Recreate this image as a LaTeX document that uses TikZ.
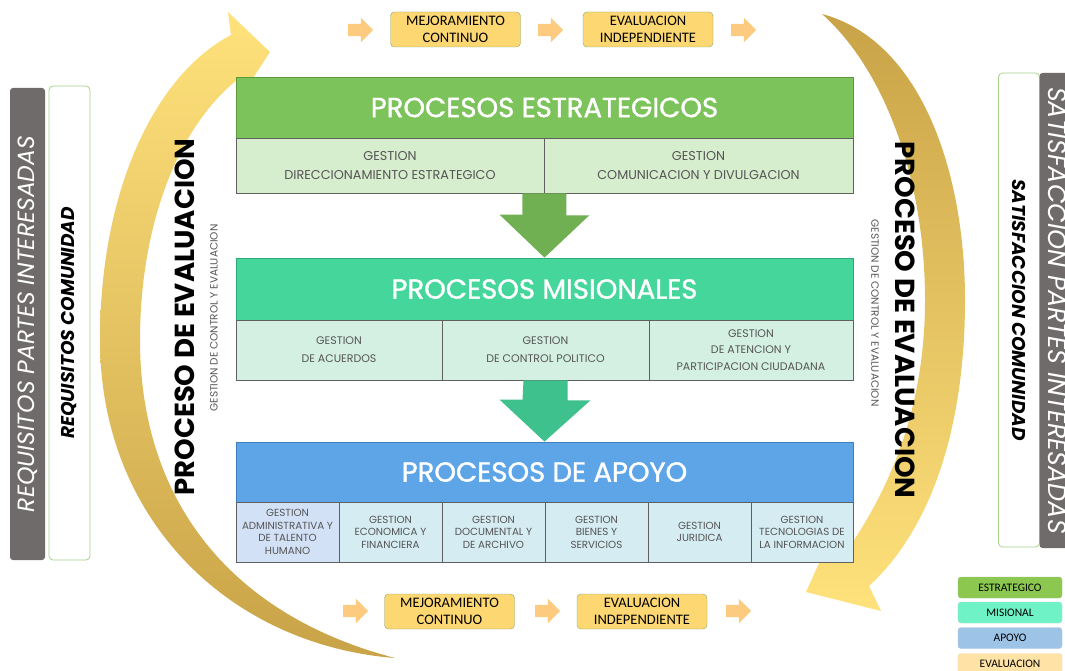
\documentclass[tikz,border=0pt]{standalone}
\usepackage{fontspec}
\setmainfont{Poppins}
\newfontfamily\carlito{Carlito}
\newfontfamily\hdrfont[FakeBold=1.2]{Poppins}
\usetikzlibrary{shapes.arrows}

\definecolor{estrgreen}{HTML}{7DC35B}
\definecolor{estrdark}{HTML}{5A9A3C}
\definecolor{estrlight}{HTML}{D6EDCE}
\definecolor{misgreen}{HTML}{45D69C}
\definecolor{misdark}{HTML}{2FA877}
\definecolor{mislight}{HTML}{D3F0E3}
\definecolor{apoblue}{HTML}{5EA5E8}
\definecolor{apodark}{HTML}{3F7FC0}
\definecolor{apolight}{HTML}{D5ECF2}
\definecolor{apofirst}{HTML}{D3E1F6}
\definecolor{gold}{HTML}{C9A347}
\definecolor{lightgold}{HTML}{FFE27C}
\definecolor{evalfill}{HTML}{FDD772}
\definecolor{evalarrow}{HTML}{FDCB80}
\definecolor{sidegray}{HTML}{6F6B6B}
\definecolor{sideline}{HTML}{A6D38A}
\definecolor{legstr}{HTML}{8CC850}
\definecolor{legmis}{HTML}{6EF2C6}
\definecolor{legapo}{HTML}{9DC3E6}
\definecolor{legeval}{HTML}{FFE3A6}
\definecolor{subtext}{HTML}{555555}

\begin{document}
\begin{tikzpicture}[x=1pt,y=-1pt,
    hdr/.style={rectangle, inner sep=0, minimum width=617, line width=0.8pt,
        text=white, font=\hdrfont\fontsize{27.5}{30}\selectfont},
    sub/.style={rectangle, inner sep=0, draw=gray!75!black, line width=0.6pt,
        align=center, text=subtext, font=\fontsize{11}{18}\selectfont},
    apo/.style={sub, fill=apolight, minimum width=103, minimum height=60,
        font=\fontsize{10.3}{12.5}\selectfont},
    evalbox/.style={rectangle, rounded corners=4, draw=sideline!80!black, fill=evalfill,
        minimum width=130, minimum height=35, align=center,
        font=\carlito\fontsize{14.5}{16.5}\selectfont},
    smallarrow/.style={single arrow, fill=evalarrow, minimum height=25,
        single arrow head extend=6, inner sep=0},
    legend/.style={rectangle, rounded corners=3, minimum width=104,
        minimum height=21, inner sep=0, font=\carlito\fontsize{11.5}{13}\selectfont},
    sidebox/.style={rectangle, rounded corners=4, draw=sideline, line width=0.8pt, fill=white,
        minimum width=474, minimum height=41, inner sep=0,
        font=\bfseries\itshape\fontsize{18.5}{20}\selectfont},
    sidebar/.style={rectangle, rounded corners=3, fill=sidegray, text=white,
        minimum height=35, inner sep=0, font=\itshape\fontsize{23.5}{25}\selectfont},
    bigeval/.style={font=\bfseries\fontsize{27.5}{30}\selectfont},
    smalleval/.style={text=subtext, font=\fontsize{10.5}{12}\selectfont}]

\useasboundingbox (0,0) rectangle (1065,671);
\fill[white] (0,0) rectangle (1065,671);

% big curved arrows
\shade[top color=lightgold, bottom color=gold]
    (395,658) .. controls (230,645) and (100,520) .. (100,340)
    .. controls (100,190) and (155,75) .. (231,35)
    -- (228,12) -- (270,52) -- (240,98) -- (237,80)
    .. controls (175,130) and (140,230) .. (140,340)
    .. controls (140,500) and (230,615) .. (395,658) -- cycle;
\shade[top color=gold, bottom color=lightgold]
    (822,14) .. controls (920,40) and (965,170) .. (965,300)
    .. controls (965,430) and (930,530) .. (869,586)
    -- (881,611) -- (806,592) -- (838,521) -- (850,546)
    .. controls (895,480) and (925,400) .. (925,300)
    .. controls (925,180) and (885,70) .. (822,14) -- cycle;

% procesos estrategicos
\node[hdr, fill=estrgreen, draw=estrdark, minimum height=61] (estr) at (544.5,107.5) {PROCESOS ESTRATEGICOS};
\node[sub, fill=estrlight, minimum width=308, minimum height=55, font=\fontsize{12.8}{19}\selectfont] (estrL) at (390,165.5) {GESTION\\DIRECCIONAMIENTO ESTRATEGICO};
\node[sub, fill=estrlight, minimum width=309, minimum height=55, font=\fontsize{12.8}{19}\selectfont] (estrR) at (698.5,165.5) {GESTION\\COMUNICACION Y DIVULGACION};

% procesos misionales
\node[hdr, fill=misgreen, draw=misdark, minimum height=62] (mis) at (544.5,289) {PROCESOS MISIONALES};
\node[sub, fill=mislight, minimum width=206, minimum height=60] (misL) at (339,350) {GESTION\\DE ACUERDOS};
\node[sub, fill=mislight, minimum width=207, minimum height=60] (misC) at (545.5,350) {GESTION\\DE CONTROL POLITICO};
\node[sub, fill=mislight, minimum width=204, minimum height=60, font=\fontsize{11}{16.5}\selectfont] (misR) at (751,350) {GESTION\\DE ATENCION Y\\PARTICIPACION CIUDADANA};

% procesos de apoyo
\node[hdr, fill=apoblue, draw=apodark, minimum height=60] (apoyo) at (544.5,472) {PROCESOS DE APOYO};
\node[apo, fill=apofirst] (apo1) at (287.5,532) {GESTION\\ADMINISTRATIVA Y\\DE TALENTO\\HUMANO};
\node[apo] (apo2) at (390.5,532) {GESTION\\ECONOMICA Y\\FINANCIERA};
\node[apo] (apo3) at (493.5,532) {GESTION\\DOCUMENTAL Y\\DE ARCHIVO};
\node[apo] (apo4) at (596.5,532) {GESTION\\BIENES Y\\SERVICIOS};
\node[apo] (apo5) at (699.5,532) {GESTION\\JURIDICA};
\node[apo, minimum width=102] (apo6) at (802,532) {GESTION\\TECNOLOGIAS DE\\LA INFORMACION};

% flechas entre niveles
\fill[estrgreen!90!black] ([xshift=-22pt]estrL.south east) -- ++(44,0) -- ++(0,22) -- ++(23,0)
    -- (mis.north) -- ([xshift=-45pt,yshift=43pt]mis.north) -- ++(23,0) -- cycle;
\fill[misgreen!90!black] ([xshift=-22pt]misC.south) -- ++(44,0) -- ++(0,20) -- ++(23,0)
    -- (apoyo.north) -- ([xshift=-45pt,yshift=42pt]apoyo.north) -- ++(23,0) -- cycle;

% mejoramiento y evaluacion
\node[smallarrow] (ta1) at (357.5,30) {\rule{0pt}{12pt}};
\node[evalbox] (mejT) at (455.5,29.5) {MEJORAMIENTO\\CONTINUO};
\node[smallarrow] (ta2) at (547.5,30) {\rule{0pt}{12pt}};
\node[evalbox] (evaT) at (648,29.5) {EVALUACION\\INDEPENDIENTE};
\node[smallarrow] (ta3) at (740.5,30) {\rule{0pt}{12pt}};

\node[smallarrow] (ba1) at (352.5,611) {\rule{0pt}{12pt}};
\node[evalbox] (mejB) at (449.5,611.5) {MEJORAMIENTO\\CONTINUO};
\node[smallarrow] (ba2) at (544.5,611) {\rule{0pt}{12pt}};
\node[evalbox] (evaB) at (642,611.5) {EVALUACION\\INDEPENDIENTE};
\node[smallarrow] (ba3) at (735.5,611) {\rule{0pt}{12pt}};

% proceso de evaluacion
\node[bigeval, rotate=90] (evalL) at (185,317) {PROCESO DE EVALUACION};
\node[smalleval, rotate=90] (ctrlL) at (214,318) {GESTION DE CONTROL Y EVALUACION};
\node[bigeval, rotate=-90] (evalR) at (905,320) {PROCESO DE EVALUACION};
\node[smalleval, rotate=-90] (ctrlR) at (875,313) {GESTION DE CONTROL Y EVALUACION};

% requisitos y satisfaccion
\node[sidebar, rotate=90, minimum width=472] (reqbar) at (27.5,324) {REQUISITOS PARTES INTERESADAS};
\node[sidebox, rotate=90] (reqbox) at (69.5,323) {REQUISITOS COMUNIDAD};
\node[sidebox, rotate=-90] (satbox) at (1019,310) {SATISFACCION COMUNIDAD};
\node[sidebar, rotate=-90, minimum width=475, font=\itshape\fontsize{25.5}{27}\selectfont] (satbar) at (1057,310.5) {SATISFACCION PARTES INTERESADAS};

% convenciones
\node[legend, fill=legstr, draw=estrdark!60] (lstr) at (1010,587.5) {ESTRATEGICO};
\node[legend, fill=legmis, draw=misdark!40] (lmis) at (1010,612.5) {MISIONAL};
\node[legend, fill=legapo, draw=apodark!40] (lapo) at (1010,638) {APOYO};
\node[legend, fill=legeval, draw=gold!40] (leval) at (1010,664) {EVALUACION};
\end{tikzpicture}
\end{document}
